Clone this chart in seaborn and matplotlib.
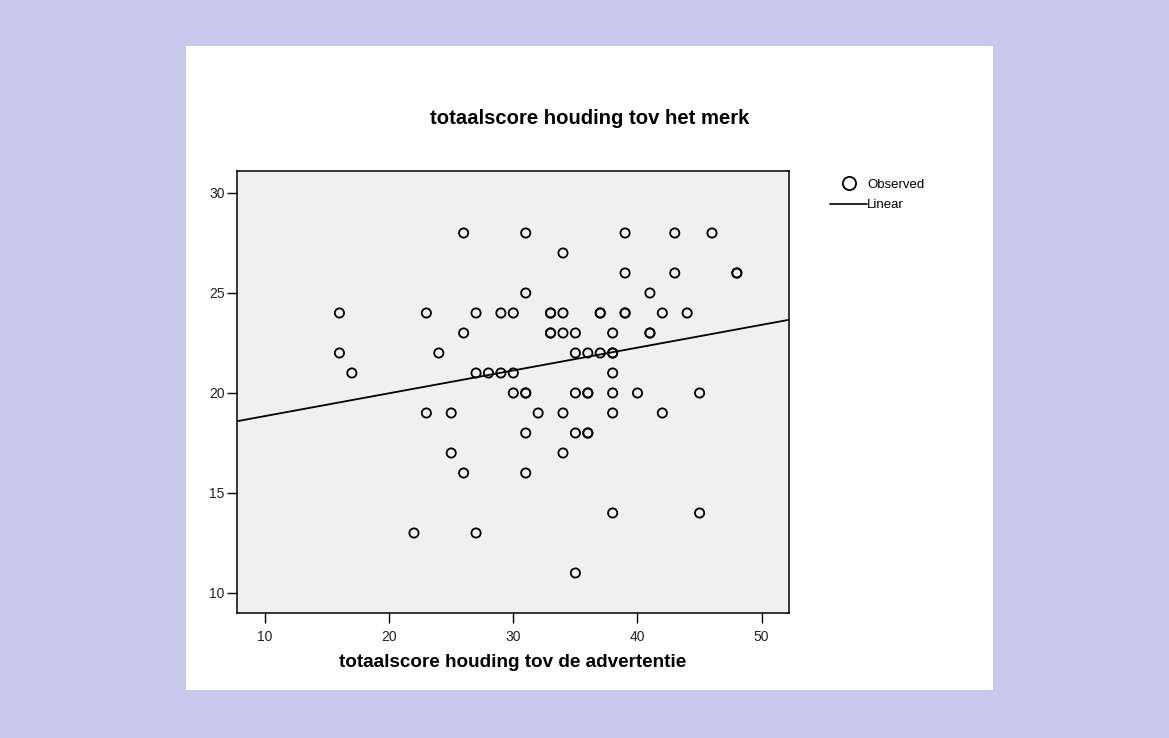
import numpy as np
import pandas as pd
import matplotlib
matplotlib.use("Agg")
import matplotlib.pyplot as plt
from matplotlib.lines import Line2D
from matplotlib.patches import Rectangle
import seaborn as sns

# Attitude scores: advertisement (x) vs. brand (y), one entry per respondent
advertentie = [26, 31, 39, 43, 46,
               34,
               39, 43, 48, 48,
               31, 41,
               16, 23, 27, 29, 30, 33, 33, 34, 37, 37, 39, 39, 42, 44,
               26, 33, 33, 34, 35, 38, 41, 41,
               16, 24, 35, 36, 37, 38, 38,
               17, 27, 28, 29, 30, 38,
               30, 31, 31, 35, 36, 36, 38, 40, 45,
               23, 25, 32, 34, 38, 42,
               31, 35, 36, 36,
               25, 34,
               26, 31,
               38, 45,
               22, 27,
               35]
merk = [28, 28, 28, 28, 28,
        27,
        26, 26, 26, 26,
        25, 25,
        24, 24, 24, 24, 24, 24, 24, 24, 24, 24, 24, 24, 24, 24,
        23, 23, 23, 23, 23, 23, 23, 23,
        22, 22, 22, 22, 22, 22, 22,
        21, 21, 21, 21, 21, 21,
        20, 20, 20, 20, 20, 20, 20, 20, 20,
        19, 19, 19, 19, 19, 19,
        18, 18, 18, 18,
        17, 17,
        16, 16,
        14, 14,
        13, 13,
        11]

x_ticks = [10, 20, 30, 40, 50]
y_ticks = [10, 15, 20, 25, 30]

df = pd.DataFrame({"advertentie": advertentie, "merk": merk})

sns.set_style("white")
plt.rcParams["font.family"] = ["Liberation Sans", "DejaVu Sans"]
plt.rcParams["text.color"] = "black"

fig = plt.figure(figsize=(11.69, 7.38), dpi=100)
fig.patch.set_facecolor("#C8C8EC")

# white panel holding the chart
fig.patches.append(Rectangle((186 / 1169, 1 - 690 / 738), (993 - 186) / 1169, (690 - 46) / 738,
                             transform=fig.transFigure, facecolor="white",
                             edgecolor="none", zorder=-5))

ax = fig.add_axes([237 / 1169, 1 - 613 / 738, (789 - 237) / 1169, (613 - 171) / 738])
ax.set_facecolor("#F0F0F0")
ax.set_xlim(7.75, 52.2)
ax.set_ylim(9.0, 31.1)

sns.regplot(data=df, x="advertentie", y="merk", ax=ax, scatter=False, ci=None,
            truncate=False, line_kws=dict(color="black", lw=1.3))
sns.scatterplot(data=df, x="advertentie", y="merk", ax=ax, s=44,
                facecolor="none", edgecolor="black", linewidth=1.3, zorder=3)
ax.set_xlim(7.75, 52.2)
ax.set_ylim(9.0, 31.1)

ax.set_xticks(x_ticks)
ax.set_yticks(y_ticks)
ax.tick_params(axis="both", direction="out", length=7.5, width=1, color="black",
               labelsize=10, labelcolor="#222222", left=True, bottom=True)
ax.tick_params(axis="x", pad=5)
ax.tick_params(axis="y", pad=1.5)
for sp in ax.spines.values():
    sp.set_color("black")
    sp.set_linewidth(1.1)

ax.set_xlabel("totaalscore houding tov de advertentie", fontsize=13.6,
              fontweight="bold", labelpad=7, color="black")
ax.set_ylabel("")

fig.text(589.5 / 1169, 1 - 118 / 738, "totaalscore houding tov het merk",
         ha="center", va="center", fontsize=14.6, fontweight="bold", color="black")

handles = [Line2D([], [], marker="o", linestyle="none", markersize=9.5,
                  markerfacecolor="none", markeredgecolor="black", markeredgewidth=1.3),
           Line2D([], [], color="black", lw=1.2)]
fig.legend(handles, ["Observed", "Linear"], loc="upper left",
           bbox_to_anchor=(825 / 1169, 1 - 173 / 738), frameon=False,
           fontsize=9.5, handlelength=2.8, handletextpad=0.0, labelspacing=0.65,
           borderaxespad=0, labelcolor="black")

fig.savefig("out.png", dpi=100, facecolor=fig.get_facecolor())
